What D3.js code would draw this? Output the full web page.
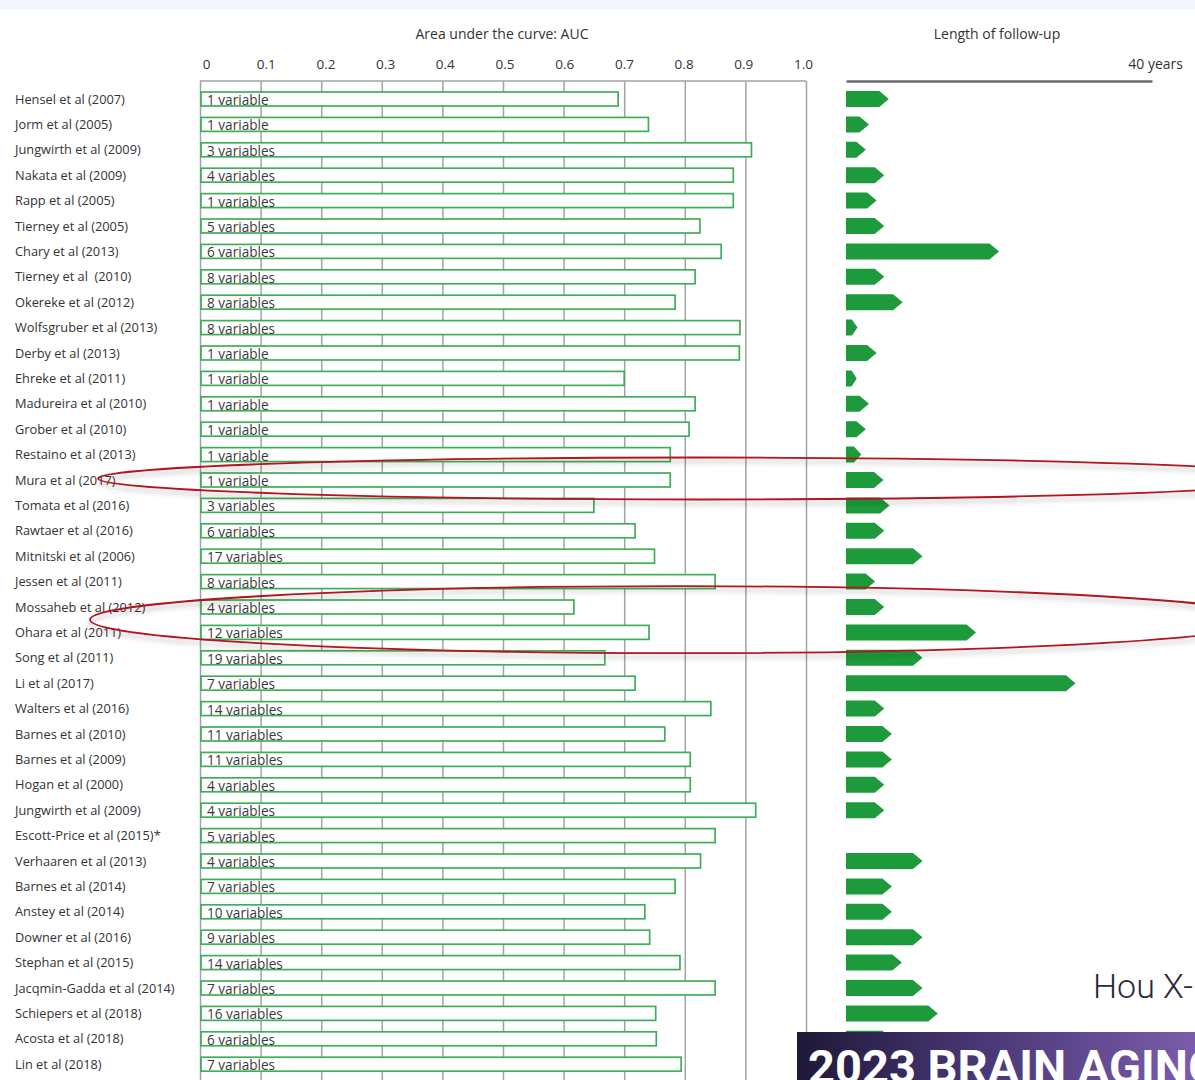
<!DOCTYPE html>
<html>
<head>
<meta charset="utf-8">
<script src="https://cdn.jsdelivr.net/npm/d3@7"></script>
<style>
  html, body { margin: 0; padding: 0; background: #fff; }
  svg { display: block; }
  text { font-family: "Open Sans", "Liberation Sans", sans-serif; }
</style>
</head>
<body>
<svg id="chart" width="1195" height="1080"></svg>
<script>
// Studies of dementia risk prediction models
const studies = [
  "Hensel et al (2007)", "Jorm et al (2005)", "Jungwirth et al (2009)", "Nakata et al (2009)",
  "Rapp et al (2005)", "Tierney et al (2005)", "Chary et al (2013)", "Tierney et al  (2010)",
  "Okereke et al (2012)", "Wolfsgruber et al (2013)", "Derby et al (2013)", "Ehreke et al (2011)",
  "Madureira et al (2010)", "Grober et al (2010)", "Restaino et al (2013)", "Mura et al (2017)",
  "Tomata et al (2016)", "Rawtaer et al (2016)", "Mitnitski et al (2006)", "Jessen et al (2011)",
  "Mossaheb et al (2012)", "Ohara et al (2011)", "Song et al (2011)", "Li et al (2017)",
  "Walters et al (2016)", "Barnes et al (2010)", "Barnes et al (2009)", "Hogan et al (2000)",
  "Jungwirth et al (2009)", "Escott-Price et al (2015)*", "Verhaaren et al (2013)", "Barnes et al (2014)",
  "Anstey et al (2014)", "Downer et al (2016)", "Stephan et al (2015)", "Jacqmin-Gadda et al (2014)",
  "Schiepers et al (2018)", "Acosta et al (2018)", "Lin et al (2018)"
];

// Number of predictors in each model (as labelled inside the bars)
const variableLabels = [
  "1 variable", "1 variable", "3 variables", "4 variables",
  "1 variables", "5 variables", "6 variables", "8 variables",
  "8 variables", "8 variables", "1 variable", "1 variable",
  "1 variable", "1 variable", "1 variable", "1 variable",
  "3 variables", "6 variables", "17 variables", "8 variables",
  "4 variables", "12 variables", "19 variables", "7 variables",
  "14 variables", "11 variables", "11 variables", "4 variables",
  "4 variables", "5 variables", "4 variables", "7 variables",
  "10 variables", "9 variables", "14 variables", "7 variables",
  "16 variables", "6 variables", "7 variables"
];

// Area under the ROC curve
const aucValues = [
  0.69, 0.74, 0.91, 0.88,
  0.88, 0.825, 0.86, 0.817,
  0.784, 0.891, 0.89, 0.70,
  0.817, 0.807, 0.776, 0.776,
  0.65, 0.718, 0.75, 0.85,
  0.617, 0.741, 0.668, 0.718,
  0.843, 0.767, 0.809, 0.809,
  0.917, 0.85, 0.826, 0.784,
  0.734, 0.742, 0.792, 0.85,
  0.752, 0.753, 0.794
];

// Length of follow-up in years (null = not reported)
const followUpYears = [
  5.6, 3, 2.6, 5,
  4, 5, 20, 5,
  7.4, 1.5, 4, 1.4,
  3, 2.6, 2, 4.9,
  5.7, 5, 10, 3.8,
  5, 17, 10, 30,
  5, 6, 6, 5,
  5, null, 10, 6,
  6, 10, 7.3, 10,
  12, 6, 5
];

// Axis ticks
const aucTicks = [0, 0.1, 0.2, 0.3, 0.4, 0.5, 0.6, 0.7, 0.8, 0.9, 1.0];
const aucTickLabels = ["0", "0.1", "0.2", "0.3", "0.4", "0.5", "0.6", "0.7", "0.8", "0.9", "1.0"];
const followUpMax = 40;

// Rows circled for emphasis (indices into studies)
const highlightGroups = [[15], [20, 21]];

const svg = d3.select("#chart");
const W = 1195, H = 1080;
const ink = "#333";

const plotTop = 81;
const x = d3.scaleLinear().domain([0, 1]).range([200, 806]);
const xLabel = d3.scaleLinear().domain([0, 1]).range([206, 803]);
const fx = d3.scaleLinear().domain([0, followUpMax]).range([846, 1152]);
const y = d3.scaleBand()
  .domain(d3.range(studies.length))
  .range([86.3, 86.3 + studies.length * 25.4])
  .paddingInner(0.45)
  .paddingOuter(0.225);
const yc = i => y(i) + y.bandwidth() / 2;

// pale strip along the top edge
svg.append("rect").attr("x", 0).attr("y", 0).attr("width", W).attr("height", 10).attr("fill", "#f4f8fc");

// titles
svg.append("text").attr("x", 502).attr("y", 39).attr("text-anchor", "middle")
  .style("font-size", "14px").style("fill", ink).text("Area under the curve: AUC");
svg.append("text").attr("x", 997).attr("y", 39).attr("text-anchor", "middle")
  .style("font-size", "14px").style("fill", ink).text("Length of follow-up");
svg.append("text").attr("x", 1183).attr("y", 69).attr("text-anchor", "end")
  .style("font-size", "14px").style("fill", ink).text(followUpMax + " years");

// AUC tick labels
const labelAxis = svg.append("g").attr("transform", "translate(0,72)")
  .call(d3.axisTop(xLabel).tickValues(aucTicks).tickSize(0).tickPadding(3)
    .tickFormat((d, i) => aucTickLabels[i]));
labelAxis.select(".domain").remove();
labelAxis.selectAll("text").style("fill", ink).style("font-size", "13.5px")
  .style("font-family", '"Open Sans", "Liberation Sans", sans-serif');

// vertical grid lines
const grid = svg.append("g").attr("transform", `translate(0,${plotTop})`)
  .call(d3.axisBottom(x).tickValues(aucTicks).tickSize(H - plotTop).tickFormat(""));
grid.select(".domain").remove();
grid.selectAll(".tick line").attr("stroke", "#a3a3a3").attr("stroke-width", 1.5);
grid.select(".tick line").attr("stroke", "#9aa3b0");

// top border of the AUC panel
svg.append("line").attr("x1", x(0)).attr("x2", x(1)).attr("y1", plotTop).attr("y2", plotTop)
  .attr("stroke", "#a3a3a3").attr("stroke-width", 1.5);

// AUC bars
svg.append("g").selectAll("rect").data(aucValues).join("rect")
  .attr("x", x(0) + 1)
  .attr("y", (d, i) => y(i))
  .attr("width", d => x(d) - x(0) - 1)
  .attr("height", y.bandwidth())
  .attr("fill", "#fff")
  .attr("stroke", "#3fae58")
  .attr("stroke-width", 1.7);

// predictor counts inside the bars
svg.append("g").selectAll("text").data(variableLabels).join("text")
  .attr("x", 207)
  .attr("y", (d, i) => yc(i) + 6)
  .style("font-size", "13.6px")
  .style("fill", "#3a3a3a")
  .text(d => d);

// study names
svg.append("g").selectAll("text").data(studies).join("text")
  .attr("x", 15)
  .attr("y", (d, i) => yc(i) + 4.5)
  .style("font-size", "12.8px")
  .style("white-space", "pre")
  .style("fill", ink)
  .text(d => d);

// follow-up axis line
const fAxis = svg.append("g").attr("transform", `translate(0,${plotTop})`)
  .call(d3.axisTop(fx).tickValues([]).tickSizeOuter(0));
fAxis.select(".domain").attr("stroke", "#6b6b6b").attr("stroke-width", 2.5);

// follow-up arrows (pentagon shapes)
const arrowH = 16;
function arrowPath(v, i) {
  const x0 = fx(0), x1 = fx(v), c = yc(i), h = arrowH / 2;
  const tip = Math.min(9.5, (x1 - x0) * 0.48);
  return `M${x0},${c - h}L${x1 - tip},${c - h}L${x1},${c}L${x1 - tip},${c + h}L${x0},${c + h}Z`;
}
svg.append("g").selectAll("path")
  .data(followUpYears.map((v, i) => ({ v, i })).filter(d => d.v != null))
  .join("path")
  .attr("d", d => arrowPath(d.v, d.i))
  .attr("fill", "#1d9b3c");

// emphasis ellipses
const defs = svg.append("defs");
const shadow = defs.append("filter").attr("id", "soft-shadow")
  .attr("x", "-10%").attr("y", "-50%").attr("width", "120%").attr("height", "200%");
shadow.append("feDropShadow").attr("dx", 0).attr("dy", 4).attr("stdDeviation", 2.5)
  .attr("flood-color", "#000").attr("flood-opacity", 0.28);

const ellipseShapes = [
  { cx: 702, rx: 604, ry: 21, dy: -1.5 },
  { cx: 680, rx: 590, ry: 33.5, dy: 0 }
];
svg.append("g").selectAll("ellipse").data(highlightGroups).join("ellipse")
  .attr("cx", (d, k) => ellipseShapes[k].cx)
  .attr("cy", (d, k) => d3.mean(d, yc) + ellipseShapes[k].dy)
  .attr("rx", (d, k) => ellipseShapes[k].rx)
  .attr("ry", (d, k) => ellipseShapes[k].ry)
  .attr("fill", "none")
  .attr("stroke", "#b3131d")
  .attr("stroke-width", 1.8)
  .attr("filter", "url(#soft-shadow)");

// citation
svg.append("text").attr("x", 1093).attr("y", 998)
  .style("font-family", "Roboto, sans-serif").style("font-weight", 300).style("font-size", "34px")
  .style("fill", "#2a2a3a").text("Hou X-H, et al");

// banner
const grad = defs.append("linearGradient").attr("id", "banner-grad").attr("x1", 0).attr("x2", 1);
grad.append("stop").attr("offset", "0%").attr("stop-color", "#1f1838");
grad.append("stop").attr("offset", "45%").attr("stop-color", "#473774");
grad.append("stop").attr("offset", "100%").attr("stop-color", "#7b5cab");
svg.append("rect").attr("x", 797).attr("y", 1032).attr("width", W - 797).attr("height", H - 1032)
  .attr("fill", "url(#banner-grad)");
svg.append("text").attr("x", 808).attr("y", 1083)
  .style("font-family", "Roboto, sans-serif").style("font-weight", 700).style("font-size", "47px")
  .style("fill", "#fff").text("2023 BRAIN AGING");
</script>
</body>
</html>
